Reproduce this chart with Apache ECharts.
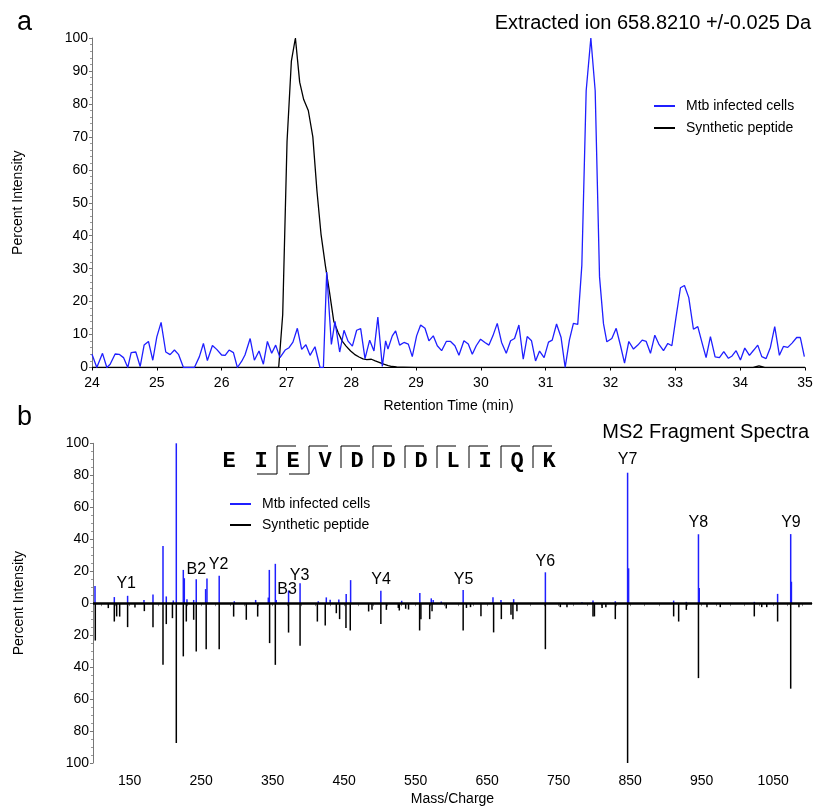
<!DOCTYPE html>
<html>
<head>
<meta charset="utf-8">
<script src="https://cdn.jsdelivr.net/npm/echarts@6/dist/echarts.min.js"></script>
<style>
  html, body { margin: 0; padding: 0; background: #fff; }
  #chart { width: 816px; height: 807px; }
</style>
</head>
<body>
<div id="chart"></div>
<script>
// ---- panel a: extracted ion chromatogram ----
const rtMtb = [24.00, 24.074, 24.162, 24.229, 24.28, 24.357, 24.419, 24.486, 24.552, 24.604, 24.676, 24.743,
  24.804, 24.871, 24.938, 25.00, 25.066, 25.138, 25.205, 25.272, 25.334, 25.411, 25.50, 25.58,
  25.657, 25.719, 25.78, 25.858, 25.924, 26.0, 26.054, 26.115, 26.182, 26.243, 26.31, 26.36,
  26.44, 26.505, 26.577, 26.644, 26.706, 26.772, 26.834, 26.90, 26.98, 27.04, 27.10, 27.168,
  27.235, 27.30, 27.364, 27.44, 27.518, 27.57, 27.621, 27.693, 27.749, 27.821, 27.888, 27.95,
  28.017, 28.083, 28.145, 28.212, 28.284, 28.35, 28.41, 28.479, 28.530, 28.566, 28.633, 28.684,
  28.746, 28.813, 28.880, 28.941, 29.008, 29.070, 29.137, 29.198, 29.265, 29.327, 29.394, 29.466,
  29.532, 29.599, 29.661, 29.738, 29.805, 29.867, 29.928, 29.995, 30.062, 30.124, 30.185, 30.252,
  30.319, 30.391, 30.458, 30.519, 30.586, 30.653, 30.714, 30.781, 30.843, 30.905, 30.975, 31.043,
  31.10, 31.167, 31.236, 31.30, 31.365, 31.427, 31.494, 31.557, 31.624, 31.696, 31.763, 31.830,
  31.891, 31.943, 32.020, 32.087, 32.154, 32.216, 32.282, 32.354, 32.421, 32.488, 32.550, 32.616,
  32.683, 32.745, 32.817, 32.884, 32.946, 33.012, 33.079, 33.140, 33.207, 33.279, 33.346, 33.413,
  33.474, 33.541, 33.613, 33.680, 33.747, 33.819, 33.875, 33.937, 34.004, 34.071, 34.143, 34.210,
  34.271, 34.333, 34.400, 34.466, 34.533, 34.605, 34.667, 34.734, 34.800, 34.872, 34.928, 34.990]
const intMtb = [4, 0, 4.3, 0, 1, 4.1, 4, 3, 0, 4.5, 4.7, 0.3,
  6.8, 7.9, 2.2, 9.3, 13.7, 4.7, 3.9, 5.3, 4, 0, 0, 0,
  3.3, 7.3, 2.1, 6.7, 5.5, 3.8, 3.7, 5.3, 4.5, 0, 1.9, 3.8,
  8.8, 2.2, 5, 1, 7.9, 4.3, 6.8, 3, 5.3, 6, 7.7, 11.9,
  5.5, 6.9, 3.7, 6.3, 0, 0, 29, 7, 14, 4.7, 11.3, 8,
  6.5, 11.3, 11.8, 2.7, 8.3, 5, 15.3, 0.3, 8.1, 5.6, 9.6, 11.1,
  6.8, 7.6, 7.1, 3.3, 9.6, 12.9, 11.9, 8.1, 9.6, 6.6, 5.1, 7.9,
  7.9, 6.6, 3.7, 8.1, 7.1, 4.0, 6.6, 8.6, 7.6, 6.8, 9.6, 13.4,
  7.6, 4.3, 8.1, 8.8, 12.9, 2.5, 9.4, 8.1, 2.0, 5.0, 3.0, 7.7,
  8.3, 13.2, 9.2, 0, 8.3, 13.4, 13.1, 31, 84, 100, 84, 27.5,
  13.3, 7.8, 8.8, 11.9, 6.6, 1.3, 7.9, 5.6, 6.8, 8.3, 7.9, 4.3,
  9.8, 7.1, 5.1, 7.3, 6.6, 15.5, 24.2, 24.9, 21.2, 11.6, 12.4, 7.4,
  3.0, 9.4, 3.2, 3.0, 4.8, 2.8, 3.5, 5.1, 2.3, 5.9, 3.7, 5.3,
  6.8, 3.3, 2.7, 6.1, 12.4, 3.7, 6.4, 6.1, 7.4, 9.1, 9.1, 3.3]

const rtSyn = [24.0, 26.88, 26.942, 27.009, 27.076, 27.138, 27.204, 27.266, 27.337, 27.407, 27.471, 27.533,
  27.600, 27.667, 27.73, 27.80, 27.86, 27.92, 27.99, 28.05, 28.12, 28.18, 28.24, 28.31,
  28.37, 28.44, 28.50, 28.57, 28.63, 28.70, 28.80, 29.0, 34.2, 34.29, 34.38, 35.0]
const intSyn = [0, 0, 16, 68.6, 93, 100, 86.6, 81.3, 78, 70, 53.5, 40.5,
  31, 22.5, 14, 10.5, 8, 6.5, 5, 4, 3.2, 2.6, 2.4, 2.5,
  2.0, 1.5, 1.0, 0.6, 0.3, 0.15, 0.1, 0, 0, 0.5, 0, 0]

// ---- panel b: MS2 spectra (mirror) ----
const mzMtb = [101.5, 128.5, 147.1, 170.0, 182.6, 196.6, 201.2, 211.0, 215.2, 225.0, 226.4, 230.1,
  239.5, 243.1, 256.2, 258.1, 275.2, 296.3, 326.2, 343.9, 345.3, 353.7, 355.0, 372.2,
  388.3, 413.8, 425.0, 430.4, 442.5, 452.8, 459.0, 501.3, 530.4, 555.8, 571.8, 574.5,
  585.8, 616.4, 658.1, 669.3, 687.0, 731.4, 782.6, 798.0, 829.2, 846.4, 847.8, 910.8,
  928.5, 945.5, 946.6, 1023.6, 1056.2, 1074.5, 1075.5]
const relMtb = [10.8, 3.8, 4.6, 2, 5.4, 35.8, 4.2, 1.7, 100, 20.8, 15.6, 2.5,
  2, 15, 8.8, 15.4, 17.1, 1.2, 2, 3.5, 20.8, 24.6, 2, 7.9,
  12.5, 1.2, 3.6, 2.2, 2.3, 5.8, 14.4, 7.7, 1.5, 6.4, 3, 2,
  1, 8.3, 3.7, 2, 2.5, 19.3, 0.6, 1.6, 1.2, 81.6, 21.8, 1.6,
  0.8, 43.1, 9.4, 0.8, 5.8, 43.2, 13.4]

const mzSyn = [101.9, 120.1, 128.5, 131.8, 136.0, 147.1, 157.4, 170.5, 182.6, 196.6, 201.2, 209.8,
  215.2, 225.0, 229.2, 239.5, 243.1, 257.0, 275.2, 295.4, 313.1, 329.0, 345.7, 353.7,
  372.2, 388.3, 412.5, 423.5, 439.0, 443.6, 452.5, 458.5, 484.2, 488.9, 501.3, 509.0,
  525.7, 527.1, 536.0, 540.0, 555.5, 557.3, 569.6, 572.9, 592.8, 616.4, 621.0, 626.7,
  641.3, 659.0, 669.8, 683.3, 686.0, 691.6, 731.4, 752.3, 761.6, 798.0, 800.0, 810.7,
  816.0, 829.2, 846.4, 910.8, 917.8, 928.5, 945.5, 957.4, 976.0, 1023.6, 1034.0, 1041.0,
  1056.2, 1074.5, 1086.0]
const relSyn = [23.4, 3.1, 11.5, 8.3, 8.4, 15, 2.7, 5, 15, 38.6, 13.1, 9.4,
  87.5, 33.3, 11.5, 10.4, 30.2, 28.8, 28.8, 8.4, 10.4, 8.4, 25, 38.6,
  18.4, 26.7, 11.5, 14, 6.3, 10, 15.6, 17.1, 5.2, 4.2, 13.1, 4.2,
  3, 4.6, 3.5, 4, 17.1, 10, 10, 5, 3.3, 17.1, 3, 2.5,
  8.2, 18.3, 10, 7.3, 10, 5, 28.8, 2.5, 2.5, 8.3, 8.3, 3.1,
  2.5, 10, 100, 8.3, 11.5, 4.2, 46.9, 2.5, 2.5, 8.3, 2.5, 2.5,
  11.5, 53.5, 2.5]

const ionNames = ['Y1', 'B2', 'Y2', 'B3', 'Y3', 'Y4', 'Y5', 'Y6', 'Y7', 'Y8', 'Y9']
const ionLabelMz = [145.1, 243.2, 274.4, 370.1, 387.7, 501.5, 617.1, 731.3, 846.4, 945.3, 1074.9]
const ionLabelY = [12.5, 20.8, 23.9, 8.3, 17.1, 14.6, 14.6, 26, 89.6, 50.4, 50.4]

const peptide = ['E', 'I', 'E', 'V', 'D', 'D', 'D', 'L', 'I', 'Q', 'K']
const yCuts = [2, 3, 4, 5, 6, 7, 8, 9, 10]
const bCuts = [2, 3]

const mzTicks = [150, 250, 350, 450, 550, 650, 750, 850, 950, 1050]
const mzMinorTicks = []
for (let v = 110; v <= 1100; v += 20) mzMinorTicks.push(v)

const BLUE = '#1f1fff'
const FONT = 'Liberation Sans, Arial, sans-serif'

const chart = echarts.init(document.getElementById('chart'))

// peptide sequence with fragment markers
const pepX0 = 229, pepStep = 32, pepTop = 446, pepY = 461
const pepGraphics = []
peptide.forEach((aa, i) => {
  pepGraphics.push({
    type: 'text', x: pepX0 + i * pepStep, y: pepY,
    style: { text: aa, font: 'bold 22px "Liberation Mono", "Courier New", monospace', fill: '#000', align: 'center', verticalAlign: 'middle' }
  })
})
yCuts.forEach(k => {
  const sx = pepX0 + (k - 1) * pepStep + pepStep / 2
  const isB = bCuts.includes(k)
  const bottom = isB ? 474 : 468
  pepGraphics.push({ type: 'line', shape: { x1: sx, y1: pepTop, x2: sx, y2: bottom }, style: { stroke: '#000', lineWidth: 1 } })
  pepGraphics.push({ type: 'line', shape: { x1: sx, y1: pepTop, x2: sx + 19, y2: pepTop }, style: { stroke: '#000', lineWidth: 1 } })
  if (isB) {
    pepGraphics.push({ type: 'line', shape: { x1: sx - 20, y1: bottom, x2: sx, y2: bottom }, style: { stroke: '#000', lineWidth: 1 } })
  }
})

const axisCommon = {
  axisLine: { show: true, lineStyle: { color: '#000', width: 1 } },
  axisLabel: { color: '#000', fontSize: 14, fontFamily: FONT },
  splitLine: { show: false },
  nameTextStyle: { color: '#000', fontSize: 14, fontFamily: FONT }
}

const option = {
  animation: false,
  backgroundColor: '#fff',
  textStyle: { fontFamily: FONT },
  title: [
    { text: 'a', left: 12, top: 4, textStyle: { fontSize: 27, fontWeight: 'normal', color: '#000', fontFamily: FONT } },
    { text: 'Extracted ion 658.8210 +/-0.025 Da', right: 0, top: 8, textStyle: { fontSize: 20, fontWeight: 'normal', color: '#000', fontFamily: FONT } },
    { text: 'b', left: 12, top: 399, textStyle: { fontSize: 27, fontWeight: 'normal', color: '#000', fontFamily: FONT } },
    { text: 'MS2 Fragment Spectra', right: 2, top: 417, textStyle: { fontSize: 20, fontWeight: 'normal', color: '#000', fontFamily: FONT } }
  ],
  legend: [
    {
      left: 649, top: 94, orient: 'vertical', itemWidth: 21, itemHeight: 2, itemGap: 8, icon: 'rect',
      data: ['Mtb infected cells', 'Synthetic peptide'],
      textStyle: { fontSize: 14, color: '#000', fontFamily: FONT, lineHeight: 14, padding: [0, 0, 0, 6] }
    },
    {
      left: 225, top: 492, orient: 'vertical', itemWidth: 21, itemHeight: 2, itemGap: 7, icon: 'rect',
      data: ['Mtb infected cells', 'Synthetic peptide'],
      textStyle: { fontSize: 14, color: '#000', fontFamily: FONT, lineHeight: 14, padding: [0, 0, 0, 6] }
    }
  ],
  graphic: pepGraphics,
  grid: [
    { left: 92, top: 38, width: 713, height: 329.5 },
    { left: 93, top: 443.3, width: 719, height: 320 }
  ],
  xAxis: [
    Object.assign({}, axisCommon, {
      type: 'value', gridIndex: 0, min: 24, max: 35, interval: 1,
      name: 'Retention Time (min)', nameLocation: 'middle', nameGap: 32,
      axisTick: { show: true, length: 3, lineStyle: { color: '#000' } },
      axisLabel: Object.assign({}, axisCommon.axisLabel, { margin: 9 })
    }),
    Object.assign({}, axisCommon, {
      type: 'value', gridIndex: 1, min: 98.7, max: 1104.3,
      name: 'Mass/Charge', nameLocation: 'middle', nameGap: 29,
      axisLine: { show: true, lineStyle: { color: '#777', width: 1 } },
      axisTick: { show: true, length: 3, customValues: mzMinorTicks, lineStyle: { color: '#888' } },
      axisLabel: Object.assign({}, axisCommon.axisLabel, { margin: 11, customValues: mzTicks, formatter: v => String(v) })
    })
  ],
  yAxis: [
    Object.assign({}, axisCommon, {
      type: 'value', gridIndex: 0, min: 0, max: 100, interval: 10,
      name: 'Percent Intensity', nameLocation: 'middle', nameGap: 67,
      axisLine: { show: true, lineStyle: { color: '#777', width: 1 } },
      axisTick: { show: true, length: 3, lineStyle: { color: '#777' } },
      minorTick: { show: true, splitNumber: 5, length: 2, lineStyle: { color: '#999' } },
      axisLabel: Object.assign({}, axisCommon.axisLabel, { margin: 4 })
    }),
    Object.assign({}, axisCommon, {
      type: 'value', gridIndex: 1, min: -100, max: 100, interval: 20,
      name: 'Percent Intensity', nameLocation: 'middle', nameGap: 67,
      axisLine: { show: true, lineStyle: { color: '#777', width: 1 } },
      axisTick: { show: true, length: 3, lineStyle: { color: '#777' } },
      minorTick: { show: true, splitNumber: 4, length: 2, lineStyle: { color: '#999' } },
      axisLabel: Object.assign({}, axisCommon.axisLabel, { margin: 4, formatter: v => Math.abs(v) })
    })
  ],
  series: [
    {
      name: 'Mtb infected cells', type: 'line', xAxisIndex: 0, yAxisIndex: 0,
      data: rtMtb.map((t, i) => [t, intMtb[i]]),
      showSymbol: false, color: BLUE, lineStyle: { color: BLUE, width: 1.3 }, z: 3
    },
    {
      name: 'Synthetic peptide', type: 'line', xAxisIndex: 0, yAxisIndex: 0,
      data: rtSyn.map((t, i) => [t, intSyn[i]]),
      showSymbol: false, color: '#000', lineStyle: { color: '#000', width: 1.3 }, z: 2
    },
    {
      name: 'Mtb infected cells', type: 'bar', xAxisIndex: 1, yAxisIndex: 1,
      data: mzMtb.map((m, i) => [m, relMtb[i]]),
      barWidth: 1.5, color: BLUE, z: 3
    },
    {
      name: 'Synthetic peptide', type: 'bar', xAxisIndex: 1, yAxisIndex: 1,
      data: mzSyn.map((m, i) => [m, -relSyn[i]]),
      barWidth: 1.5, barGap: '-100%', color: '#000', z: 2,
      markLine: {
        silent: true, symbol: 'none', label: { show: false },
        lineStyle: { color: '#000', width: 2.5, type: 'solid' },
        data: [{ yAxis: 0 }]
      }
    },
    {
      name: 'ions', type: 'scatter', xAxisIndex: 1, yAxisIndex: 1,
      data: ionLabelMz.map((m, i) => [m, ionLabelY[i]]),
      symbolSize: 1, itemStyle: { color: 'rgba(0,0,0,0)', opacity: 1 }, silent: true, z: 5,
      label: {
        show: true, position: 'inside', fontSize: 16, color: '#000', fontFamily: FONT,
        textBorderWidth: 0, textBorderColor: 'transparent', opacity: 1,
        formatter: p => ionNames[p.dataIndex]
      }
    }
  ]
}

chart.setOption(option)
</script>
</body>
</html>
